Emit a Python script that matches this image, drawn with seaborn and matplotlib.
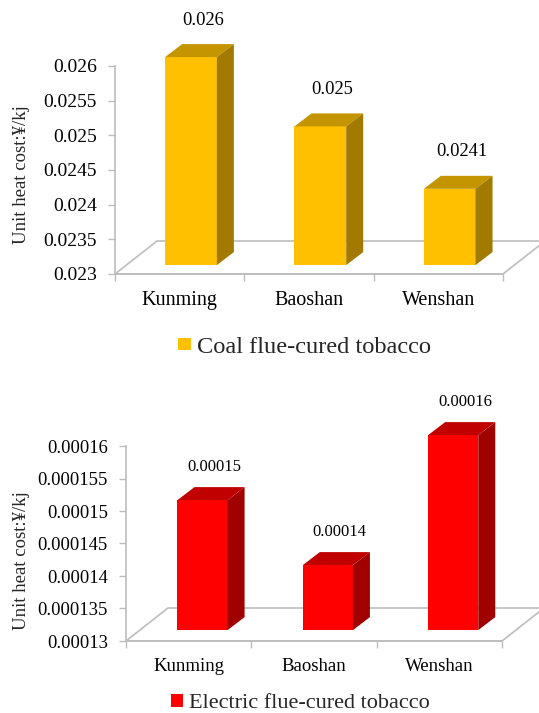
import matplotlib
matplotlib.use("Agg")
import matplotlib.pyplot as plt
from matplotlib.patches import Polygon, Rectangle
import pandas as pd
import seaborn as sns

# ---- data ----
cities = ["Kunming", "Baoshan", "Wenshan"]

coal_cost = [0.026, 0.025, 0.0241]
coal_labels = ["0.026", "0.025", "0.0241"]
coal_ticks = [0.023, 0.0235, 0.024, 0.0245, 0.025, 0.0255, 0.026]
coal_ticklabels = ["0.023", "0.0235", "0.024", "0.0245", "0.025", "0.0255", "0.026"]

electric_cost = [0.00015, 0.00014, 0.00016]
electric_labels = ["0.00015", "0.00014", "0.00016"]
electric_ticks = [0.00013, 0.000135, 0.00014, 0.000145, 0.00015, 0.000155, 0.00016]
electric_ticklabels = ["0.00013", "0.000135", "0.00014", "0.000145",
                       "0.00015", "0.000155", "0.00016"]

y_title = "Unit heat cost:\u00a5/kj"
coal_legend = "Coal flue-cured tobacco"
electric_legend = "Electric flue-cured tobacco"

# ---- style ----
sns.set_theme(style="white")
plt.rcParams["font.family"] = ["Liberation Serif", "DejaVu Serif"]

W, H = 539, 713
GRID = "#BDBDBD"

fig = plt.figure(figsize=(W / 100, H / 100), dpi=100)


def bar_panel(box, values, labels, ticks, ticklabels, colors, front_frac,
              tick_fs, val_fs, cat_fs, label_dy):
    """Pseudo-3D column chart on a floor seen slightly from above."""
    left, top, right, bottom = box
    ax = fig.add_axes([left / W, 1 - bottom / H, (right - left) / W, (bottom - top) / H])
    face, roof, side = colors

    df = pd.DataFrame({"city": cities, "cost": values})
    sns.barplot(data=df, x="city", y="cost", color=face, saturation=1,
                width=0.4, linewidth=0, ax=ax, zorder=4)

    ymin, ymax = ticks[0], ticks[-1]
    ax.set_xlim(-0.5, len(cities) - 0.5)
    ax.set_ylim(ymin, ymax)

    # data units per pixel
    sx = len(cities) / (right - left)
    sy = (ymax - ymin) / (bottom - top)
    floor_dx, floor_dy = 42 * sx, 33 * sy
    ox, oy = front_frac * floor_dx, front_frac * floor_dy
    bdx, bdy = 17 * sx, 13 * sy

    # floor plane
    x0, x1 = -0.5, len(cities) - 0.5
    floor = Polygon([(x0, ymin), (x1, ymin), (x1 + floor_dx, ymin + floor_dy),
                     (x0 + floor_dx, ymin + floor_dy)], closed=True,
                    facecolor="white", edgecolor=GRID, lw=1.2, clip_on=False, zorder=1)
    ax.add_patch(floor)

    # columns: front faces from seaborn, plus roof and side faces
    for p, lab in zip(list(ax.patches)[:len(cities)], labels):
        bx, bw, v = p.get_x(), p.get_width(), p.get_height()
        p.set_xy((bx + ox, ymin + oy))
        p.set_height(v - ymin)
        p.set_clip_on(False)
        fx0, fx1 = bx + ox, bx + bw + ox
        fy0, fy1 = ymin + oy, v + oy
        ax.add_patch(Polygon([(fx0, fy1), (fx1, fy1), (fx1 + bdx, fy1 + bdy),
                              (fx0 + bdx, fy1 + bdy)], closed=True, facecolor=roof,
                             edgecolor="none", clip_on=False, zorder=4))
        ax.add_patch(Polygon([(fx1, fy0), (fx1, fy1), (fx1 + bdx, fy1 + bdy),
                              (fx1 + bdx, fy0 + bdy)], closed=True, facecolor=side,
                             edgecolor="none", clip_on=False, zorder=4))
        ax.text((fx0 + fx1) / 2 + 12 * sx, fy1 + label_dy * sy, lab,
                ha="center", va="center", fontsize=val_fs, color="black")

    ax.set_yticks(ticks)
    ax.set_yticklabels(ticklabels)
    ax.set_xticks(range(len(cities)))
    ax.set_xticklabels(cities)
    ax.set_xticks([x0 + i for i in range(len(cities) + 1)], minor=True)
    ax.set_xlabel("")
    ax.set_ylabel("")

    for s in ("top", "right"):
        ax.spines[s].set_visible(False)
    for s in ("left", "bottom"):
        ax.spines[s].set_color(GRID)
        ax.spines[s].set_linewidth(1.2)
        ax.spines[s].set_zorder(2)

    ax.tick_params(axis="y", direction="out", length=5, width=1, color=GRID,
                   pad=8, labelsize=tick_fs, labelcolor="black", left=True)
    ax.tick_params(axis="x", which="major", length=0, pad=12, labelsize=cat_fs,
                   labelcolor="black")
    ax.tick_params(axis="x", which="minor", direction="out", length=5, width=1,
                   color=GRID, bottom=True)
    ax.patch.set_alpha(0)
    return ax


bar_panel((115, 66, 503, 274), coal_cost, coal_labels, coal_ticks, coal_ticklabels,
          ("#FFC000", "#C49500", "#A27A00"), 0.27,
          tick_fs=14, val_fs=13.3, cat_fs=14.5, label_dy=37)

bar_panel((126, 446, 502, 641), electric_cost, electric_labels, electric_ticks,
          electric_ticklabels, ("#FF0000", "#C00000", "#A00000"), 0.33,
          tick_fs=13.4, val_fs=12, cat_fs=13.5, label_dy=33)

# axis titles
fig.text(22 / W, 1 - 175 / H, y_title, rotation=90, ha="center", va="center",
         fontsize=13.5)
fig.text(22 / W, 1 - 561 / H, y_title, rotation=90, ha="center", va="center",
         fontsize=13.5)

# legends
fig.patches.append(Rectangle((178 / W, 1 - 350 / H), 13 / W, 12 / H,
                             transform=fig.transFigure, facecolor="#FFC000",
                             edgecolor="none"))
fig.text(197 / W, 1 - 353 / H, coal_legend, ha="left", va="baseline", fontsize=17.6)

fig.patches.append(Rectangle((171 / W, 1 - 707 / H), 12 / W, 13 / H,
                             transform=fig.transFigure, facecolor="#FF0000",
                             edgecolor="none"))
fig.text(189 / W, 1 - 708 / H, electric_legend, ha="left", va="baseline", fontsize=16)

fig.savefig("out.png", dpi=100)
